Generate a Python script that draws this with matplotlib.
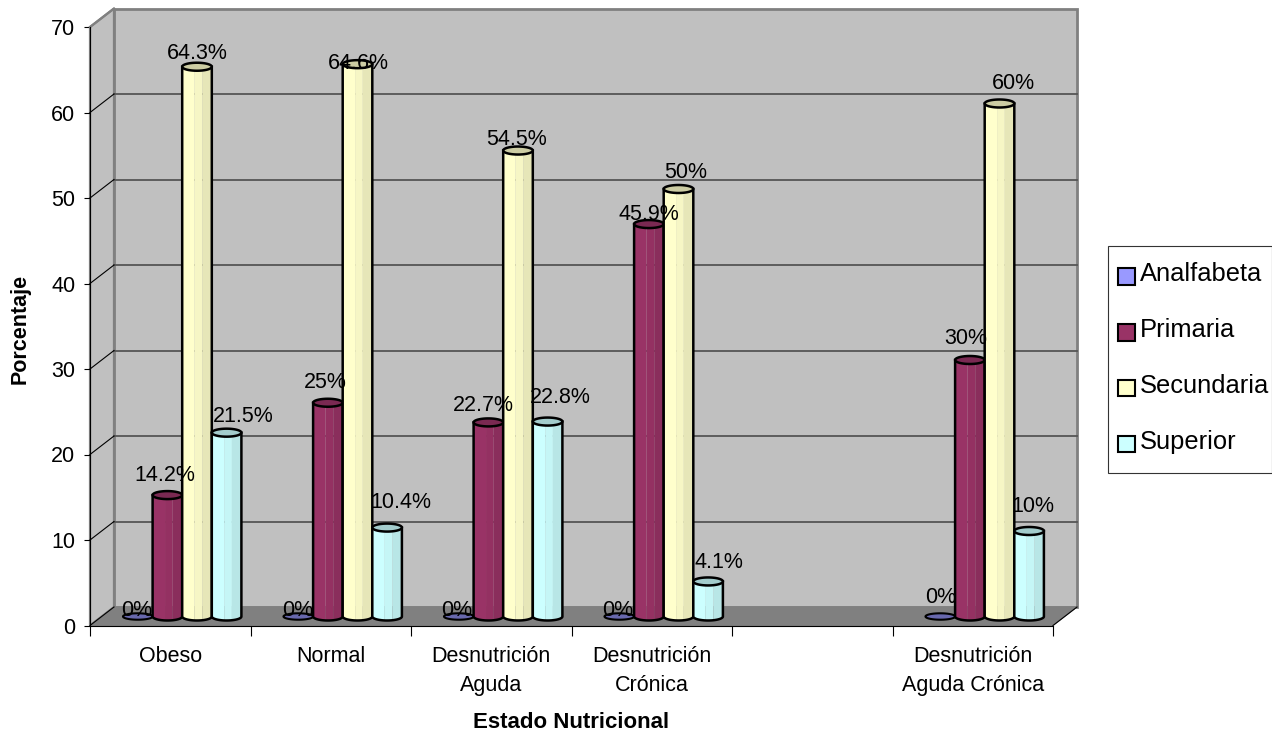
import numpy as np
import matplotlib
matplotlib.use("Agg")
import matplotlib.pyplot as plt
from matplotlib.patches import Patch, Rectangle
from matplotlib.legend_handler import HandlerPatch

plt.rcParams['font.family'] = ['Liberation Sans', 'DejaVu Sans']

# Chart data
categories = ["Obeso", "Normal", "Desnutrición\nAguda", "Desnutrición\nCrónica", "", "Desnutrición\nAguda Crónica"]
series_names = ["Analfabeta", "Primaria", "Secundaria", "Superior"]
analfabeta = [0, 0, 0, 0, None, 0]
primaria = [14.2, 25, 22.7, 45.9, None, 30]
secundaria = [64.3, 64.6, 54.5, 50, None, 60]
superior = [21.5, 10.4, 22.8, 4.1, None, 10]
value_labels = [
    ["0%", "0%", "0%", "0%", None, "0%"],
    ["14.2%", "25%", "22.7%", "45.9%", None, "30%"],
    ["64.3%", "64.6%", "54.5%", "50%", None, "60%"],
    ["21.5%", "10.4%", "22.8%", "4.1%", None, "10%"],
]

# Hand-placed label nudges in pixels (dx, dy above the bar top)
label_nudges = [
    [(-1, 6), (-1, 6), (-2, 6), (-2, 6), None, (0, 19)],
    [(-3, 20), (-3, 20), (-5, 17), (0, 10), None, (-4, 21)],
    [(0, 13), (1, 1), (-1, 11), (7, 17), None, (14, 20)],
    [(17, 16), (14, 25), (13, 24), (11, 19), None, (4, 24)],
]

# Colours: side base, top cap
bases = ["#9999FF", "#993366", "#FFFFCC", "#CCFFFF"]
shade = [1.0, 0.965, 0.90]
cap_factor = 0.8

W, H = 1272, 733
fig = plt.figure(figsize=(W / 100, H / 100), dpi=100)
left, right, y0, y70 = 90, 1053, 625.5, 27
ax = fig.add_axes([left / W, 1 - y0 / H, (right - left) / W, (y0 - y70) / H])
ax.set_xlim(0, 6)
ax.set_ylim(0, 70)
ax.patch.set_visible(False)

ux = (right - left) / 6      # pixels per category
uy = (y0 - y70) / 70         # pixels per percent
dx = 24 / ux                 # depth offset of the back wall
dy = 18.5 / uy

# Walls and floor
ax.fill([0, dx, dx, 0], [0, dy, 70 + dy, 70], fc="#C0C0C0", ec="#808080", lw=1.6, zorder=1, clip_on=False)
ax.fill([dx, 6 + dx, 6 + dx, dx], [dy, dy, 70 + dy, 70 + dy], fc="#C0C0C0", ec="#808080", lw=2.0, zorder=1, clip_on=False)
ax.fill([0, 6, 6 + dx, dx], [0, 0, dy, dy], fc="#808080", ec="#808080", lw=0.8, zorder=2, clip_on=False)
for v in range(10, 70, 10):
    ax.plot([dx, 6 + dx], [v + dy, v + dy], color="#555555", lw=1.3, zorder=2, clip_on=False)
    ax.plot([0, dx], [v, v + dy], color="black", lw=0.8, zorder=2, clip_on=False)
ax.plot([0, dx], [70, 70 + dy], color="#808080", lw=1.6, zorder=2, clip_on=False)
ax.plot([6, 6 + dx], [0, dy], color="black", lw=0.8, zorder=3, clip_on=False)
ax.plot([0, dx], [0, dy], color="black", lw=0.8, zorder=3, clip_on=False)

bar_w = 29.6 / ux
bar_start = 33 / ux
base_y = 9 / uy
ell_h = 4.0 / uy


def scale(colour, k):
    rgb = np.array(matplotlib.colors.to_rgb(colour)) * k
    return tuple(np.clip(rgb, 0, 1))


def cylinder(x, value, colour, z):
    t = np.linspace(0, np.pi, 40)
    cx = x + bar_w / 2
    rx = bar_w / 2
    top = base_y + value
    if value == 0:
        th = np.linspace(0, 2 * np.pi, 60)
        ax.fill(cx + rx * np.cos(th), base_y + ell_h * 0.8 * np.sin(th), fc=scale(colour, 0.68),
                ec="black", lw=1.5, zorder=z, clip_on=False)
        return
    edges = [0, 0.42, 0.68, 1.0]
    for (a, b, k) in zip(edges[:-1], edges[1:], shade):
        xa, xb = x + a * bar_w, x + b * bar_w
        tt = np.linspace(xa, xb, 20)
        low = base_y - ell_h * np.sqrt(np.clip(1 - ((tt - cx) / rx) ** 2, 0, 1))
        ax.fill(np.r_[tt, xb, xa], np.r_[low, top, top], fc=scale(colour, k), ec="none", zorder=z, clip_on=False)
    ox = np.r_[x, cx - rx * np.cos(t), x + bar_w]
    oy = np.r_[top, base_y - ell_h * np.sin(t), top]
    ax.plot(ox, oy, color="black", lw=1.8, zorder=z + 0.1, clip_on=False)
    th = np.linspace(0, 2 * np.pi, 60)
    ax.fill(cx + rx * np.cos(th), top + ell_h * np.sin(th), fc=scale(colour, cap_factor),
            ec="black", lw=1.8, zorder=z + 0.2, clip_on=False)


all_series = [analfabeta, primaria, secundaria, superior]
for j, (vals, colour) in enumerate(zip(all_series, bases)):
    for i, v in enumerate(vals):
        if v is None:
            continue
        cylinder(i + bar_start + j * bar_w, v, colour, 5 + j)

# Value labels sit above all bars
for j, vals in enumerate(all_series):
    for i, v in enumerate(vals):
        if v is None:
            continue
        cx = i + bar_start + (j + 0.5) * bar_w
        ndx, ndy = label_nudges[j][i]
        ax.annotate(value_labels[j][i], (cx, base_y + v), xytext=(ndx, ndy), textcoords="offset pixels",
                    ha="center", va="center", fontsize=15.5, color="black", zorder=20, annotation_clip=False)

# Axes, ticks and titles
for s in ("top", "right"):
    ax.spines[s].set_visible(False)
for s in ("left", "bottom"):
    ax.spines[s].set_linewidth(0.8)
    ax.spines[s].set_zorder(4)
ax.set_yticks(range(0, 71, 10))
ax.set_xticks(range(0, 7))
ax.set_xticklabels([])
ax.set_xticks(np.arange(6) + 0.5, minor=True)
ax.set_xticklabels(categories, minor=True, fontsize=15.5, linespacing=1.55, va="top")
ax.tick_params(axis="x", which="major", length=7.5, width=0.8)
ax.tick_params(axis="x", which="minor", length=0, pad=14.5)
ax.tick_params(axis="y", length=4.5, width=0.8, labelsize=15.5, pad=6)

fig.text(571 / W, 1 - 722 / H, "Estado Nutricional", ha="center", va="center", fontsize=16, fontweight="bold")
fig.text(20 / W, 1 - 329 / H, "Porcentaje", ha="center", va="center", rotation=90, fontsize=15.5, fontweight="bold")


def legend_swatch(legend, orig_handle, xdescent, ydescent, width, height, fontsize):
    # Square key sitting a little below the middle of its label
    return Rectangle((0, -0.14 * fontsize), 0.66 * fontsize, 0.66 * fontsize)


# Legend box drawn on its own so it can run up to the figure edge
fig.add_artist(Rectangle((1108 / W, 1 - 473 / H), 163.5 / W, 227 / H, transform=fig.transFigure,
                         fc="white", ec="#333333", lw=0.8))
handles = [Patch(fc=c, ec="black", lw=1.5) for c in bases]
leg = fig.legend(handles, series_names, loc="upper left", bbox_to_anchor=(1118 / W, 1 - 262 / H),
                 bbox_transform=fig.transFigure, fontsize=18.4, frameon=False,
                 labelspacing=1.25, handlelength=0.66, handleheight=0.66,
                 handletextpad=0.2, borderaxespad=0, borderpad=0,
                 handler_map={Patch: HandlerPatch(patch_func=legend_swatch)})
leg.set_zorder(5)

fig.savefig("out.png", dpi=100)
